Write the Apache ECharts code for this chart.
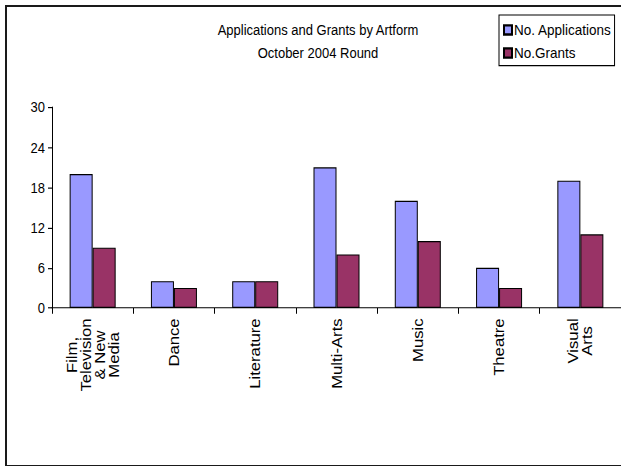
<!DOCTYPE html>
<html>
<head>
<meta charset="utf-8">
<script src="https://cdn.jsdelivr.net/npm/echarts@6/dist/echarts.min.js"></script>
<style>
  html, body { margin: 0; padding: 0; background: #fff; overflow: hidden; }
  #wrap { position: relative; width: 621px; height: 466px; overflow: hidden; }
  #chart { width: 621px; height: 405px; transform: scaleY(1.1506); transform-origin: 0 0; }
  #frame { position: absolute; left: 5px; top: 5px; width: 614px; height: 458px; border: 2px solid #1a1a1a; border-right: none; pointer-events: none; }
</style>
</head>
<body>
<div id="wrap"><div id="chart"></div><div id="frame"></div></div>
<script>
const categories = ["Film,\nTelevision\n& New\nMedia", "Dance", "Literature", "Multi-Arts", "Music", "Theatre", "Visual\nArts"];
const applications = [20, 4, 4, 21, 16, 6, 19];
const grants = [9, 3, 4, 8, 10, 3, 11];
const yTicks = [0, 6, 12, 18, 24, 30];

const FONT = "'Liberation Sans', Arial, Helvetica, sans-serif";
const chart = echarts.init(document.getElementById('chart'), null, { renderer: 'svg' });

chart.setOption({
  animation: false,
  backgroundColor: '#fff',
  title: {
    text: 'Applications and Grants by Artform\nOctober 2004 Round',
    left: 318,
    top: 16,
    padding: 0,
    textAlign: 'center',
    textStyle: { fontFamily: FONT, fontSize: 13, fontWeight: 'normal', color: '#000', lineHeight: 20 }
  },
  legend: {
    orient: 'vertical',
    left: 499,
    top: 13,
    padding: [6, 3, 4, 4],
    itemGap: 6,
    itemWidth: 8,
    itemHeight: 8,
    borderColor: '#000',
    borderWidth: 1,
    icon: 'rect',
    textStyle: { fontFamily: FONT, fontSize: 13.5, color: '#000', padding: [0, 0, 0, -3] },
    data: ['No. Applications', 'No.Grants']
  },
  grid: { left: 52, right: -1, top: 93, bottom: 137.3, containLabel: false },
  xAxis: {
    type: 'category',
    data: categories,
    axisLine: { lineStyle: { color: '#000', width: 1 } },
    axisTick: { show: true, length: 5, lineStyle: { color: '#000' } },
    axisLabel: {
      rotate: 90,
      interval: 0,
      margin: 9,
      color: '#000',
      fontFamily: FONT,
      fontSize: 14.5,
      lineHeight: 14,
      formatter: function (v) { return v.split('\n').map(function (l) { return '{c|' + l + '}'; }).join('\n'); },
      rich: { c: { align: 'center', fontFamily: FONT, fontSize: 14.5, lineHeight: 14, color: '#000' } }
    }
  },
  yAxis: {
    type: 'value',
    min: yTicks[0],
    max: yTicks[yTicks.length - 1],
    interval: yTicks[1] - yTicks[0],
    axisLine: { show: true, lineStyle: { color: '#000', width: 1 } },
    axisTick: { show: true, length: 4, lineStyle: { color: '#000' } },
    splitLine: { show: false },
    axisLabel: { color: '#000', fontFamily: FONT, fontSize: 13, margin: 7 }
  },
  series: [
    {
      name: 'No. Applications',
      type: 'bar',
      data: applications,
      barWidth: 23,
      barGap: '0%',
      itemStyle: { color: '#9999FF', borderColor: '#000', borderWidth: 1 }
    },
    {
      name: 'No.Grants',
      type: 'bar',
      data: grants,
      barWidth: 23,
      barGap: '0%',
      itemStyle: { color: '#993366', borderColor: '#000', borderWidth: 1 }
    }
  ]
});
</script>
</body>
</html>
